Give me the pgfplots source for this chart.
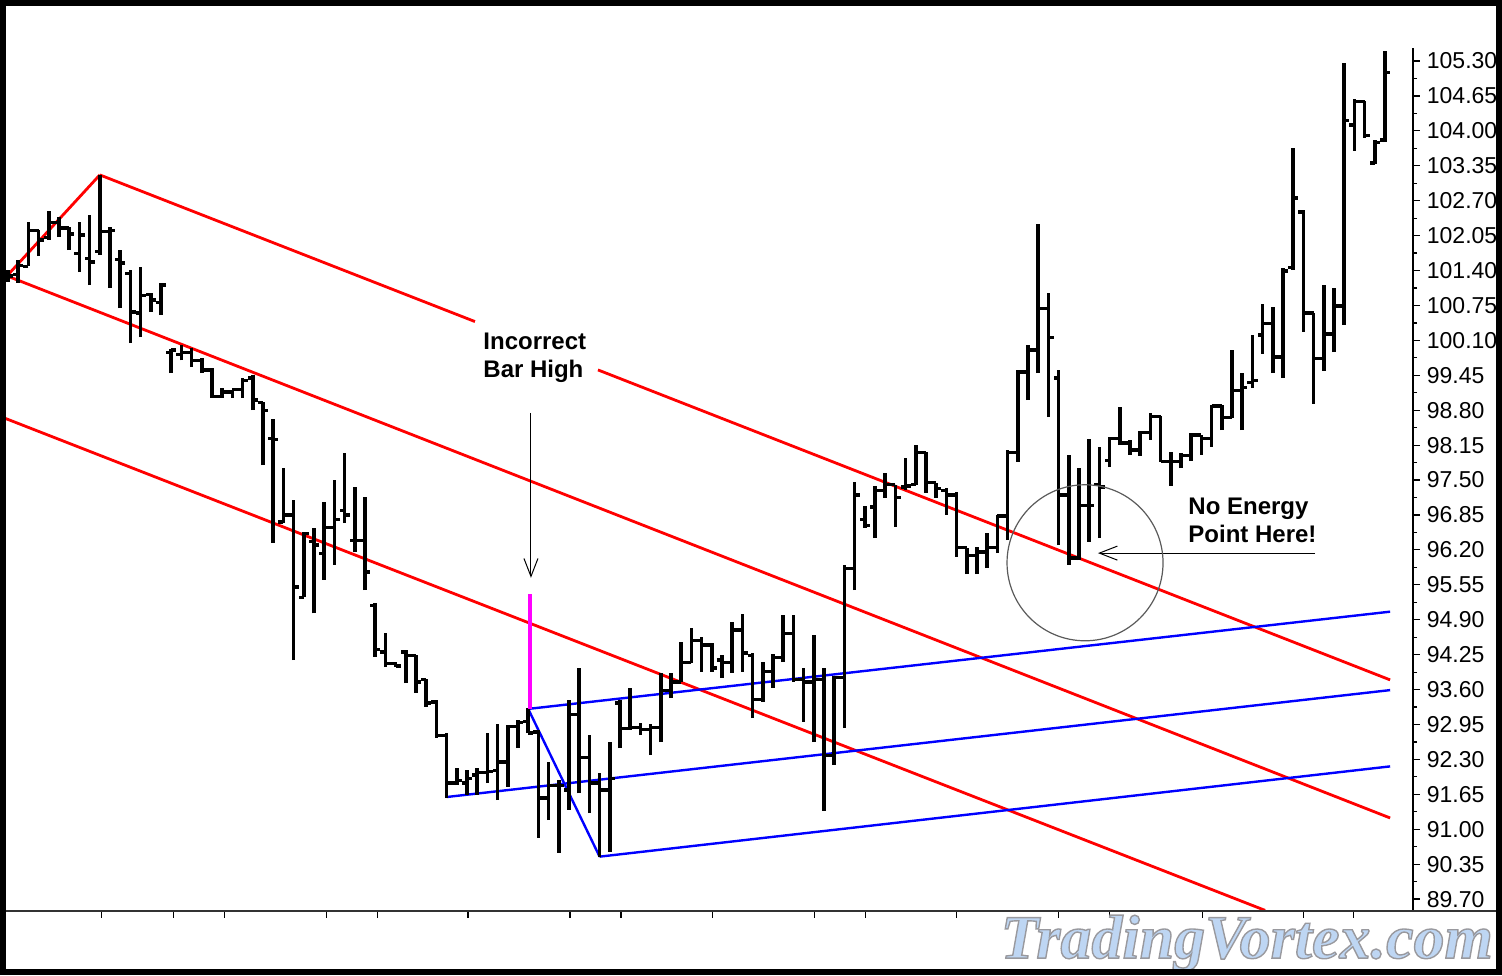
\documentclass[border=0pt]{standalone}
\usepackage{fontspec}
\setmainfont{Liberation Sans}
\newfontfamily\wmfont{Liberation Serif}
\usepackage{pgfplots}
\pgfplotsset{compat=1.18}
\usepackage{pgfplotstable}
\usetikzlibrary{arrows.meta}
\definecolor{wmblue}{RGB}{190,214,243}
\definecolor{circgray}{RGB}{90,90,90}
\definecolor{pfred}{RGB}{255,0,0}
\definecolor{pfblue}{RGB}{0,0,255}
\definecolor{pfmag}{RGB}{255,0,255}

\pgfplotstableread{
i o h l c
0 101.24 101.41 101.19 101.30
1 101.32 101.60 101.17 101.50
2 101.48 102.30 101.48 102.15
3 102.14 102.15 101.67 101.97
4 102.01 102.51 101.97 102.30
5 102.30 102.40 102.02 102.19
6 102.19 102.21 101.78 102.08
7 101.71 102.30 101.37 102.06
8 101.63 102.43 101.13 101.56
9 101.75 103.18 101.69 102.12
10 102.12 102.21 101.08 102.15
11 101.60 101.78 100.70 101.54
12 101.35 101.41 100.05 100.63
13 100.61 101.47 100.16 100.93
14 100.95 100.98 100.63 100.85
15 100.81 101.17 100.57 101.13
16 99.88 99.94 99.49 99.92
17 99.83 100.01 99.73 99.88
18 99.88 99.96 99.60 99.73
19 99.73 99.77 99.49 99.55
20 99.55 99.59 99.03 99.06
21 99.06 99.21 99.03 99.14
22 99.14 99.18 99.03 99.18
23 99.18 99.40 99.03 99.36
24 99.40 99.45 98.80 98.99
25 98.95 98.95 97.78 98.80
26 98.28 98.64 96.33 98.25
27 96.72 97.72 96.70 96.85
28 96.85 97.13 94.15 95.51
29 95.32 96.53 95.32 96.51
30 96.35 96.61 95.02 96.29
31 96.14 97.09 95.64 96.61
32 96.61 97.50 95.92 96.76
33 96.94 98.00 96.70 96.85
34 96.38 97.37 96.16 96.38
35 96.38 97.18 95.45 95.79
36 95.17 95.21 94.21 94.34
37 94.30 94.65 94.02 94.09
38 94.09 94.11 94.02 94.04
39 94.30 94.34 93.72 94.24
40 94.24 94.24 93.54 93.74
41 93.78 93.80 93.28 93.35
42 93.37 93.41 92.70 92.75
43 92.75 92.79 91.58 91.86
44 91.86 92.14 91.82 91.90
45 91.86 92.10 91.64 91.95
46 92.01 92.14 91.64 92.05
47 92.05 92.79 91.86 92.08
48 92.10 92.96 91.54 92.25
49 92.25 92.94 91.79 92.92
50 92.92 93.03 92.51 92.98
51 93.00 93.26 92.79 92.79
52 92.81 92.85 90.84 91.58
53 91.58 92.25 91.17 91.82
54 91.82 91.92 90.56 91.82
55 91.73 93.41 91.36 93.13
56 93.13 94.00 91.67 92.34
57 92.34 92.75 91.30 91.86
58 91.86 92.05 90.48 91.73
59 91.73 92.62 90.58 91.95
60 93.35 93.41 92.51 92.88
61 92.88 93.63 92.85 92.90
62 92.90 92.98 92.75 92.85
63 92.85 92.96 92.38 92.90
64 92.90 93.91 92.62 93.59
65 93.59 93.91 93.44 93.74
66 93.74 94.49 93.74 94.11
67 94.11 94.75 94.09 94.52
68 94.52 94.58 93.93 94.43
69 94.43 94.47 93.93 94.00
70 94.15 94.24 93.82 94.11
71 94.11 94.86 93.91 94.71
72 94.71 95.01 93.93 94.28
73 94.24 94.28 93.07 93.41
74 93.41 94.11 93.37 93.93
75 93.93 94.26 93.63 94.19
76 94.19 94.99 94.11 94.65
77 94.65 94.99 93.74 93.78
78 93.78 94.00 93.00 93.74
79 93.74 94.62 92.62 93.78
80 93.78 94.00 91.34 92.38
81 92.38 93.85 92.20 93.82
82 93.82 95.92 92.88 95.86
83 95.86 97.46 95.45 97.22
84 96.76 97.02 96.61 96.66
85 97.00 97.39 96.42 97.31
86 97.31 97.63 97.17 97.41
87 97.41 97.41 96.63 97.17
88 97.37 97.91 97.31 97.39
89 97.41 98.15 97.41 98.02
90 98.02 98.02 97.26 97.45
91 97.45 97.45 97.17 97.35
92 97.31 97.35 96.85 97.22
93 97.22 97.28 96.07 96.24
94 96.24 96.24 95.75 96.10
95 96.10 96.25 95.75 96.16
96 96.16 96.51 95.86 96.25
97 96.25 96.85 96.14 96.83
98 96.83 98.06 96.38 98.02
99 98.02 99.55 97.84 99.51
100 99.51 100.01 98.99 99.92
101 99.92 102.27 99.49 100.70
102 100.70 100.98 98.67 100.16
103 99.40 99.55 96.29 97.22
104 97.22 97.97 95.92 96.05
105 96.05 97.72 96.01 97.03
106 97.03 98.26 96.35 97.03
107 97.41 98.12 96.42 97.37
108 97.87 98.30 97.74 98.28
109 98.28 98.86 98.15 98.19
110 98.19 98.25 97.97 98.06
111 98.06 98.41 97.95 98.39
112 98.39 98.75 98.25 98.69
113 98.69 98.69 97.84 97.85
114 97.85 98.02 97.39 97.84
115 97.84 98.00 97.72 97.95
116 97.95 98.38 97.85 98.34
117 98.34 98.34 97.97 98.28
118 98.28 98.90 98.12 98.88
119 98.88 98.90 98.43 98.67
120 98.67 99.92 98.65 99.16
121 99.16 99.49 98.43 99.23
122 99.32 100.20 99.21 99.36
123 100.20 100.78 99.85 100.41
124 100.41 100.72 99.49 99.79
125 99.79 101.45 99.40 101.39
126 101.45 103.68 101.41 102.75
127 102.49 102.53 100.26 100.61
128 100.61 100.61 98.92 99.77
129 99.77 101.13 99.53 100.22
130 100.22 101.08 99.88 100.74
131 100.74 105.26 100.39 104.20
132 104.11 104.59 103.63 104.54
133 104.54 104.56 103.87 103.92
134 103.40 103.83 103.38 103.79
135 103.83 105.49 103.79 105.08
}\bars

\newcommand{\wm}{\wmfont\bfseries\itshape\fontsize{31}{31}\selectfont TradingVortex.com}

\begin{document}
\begin{tikzpicture}
\begin{axis}[
  scale only axis, width=704pt, height=454pt,
  xmin=-0.294, xmax=137.745, ymin=89.478, ymax=106.380,
  clip=false,
  axis x line*=bottom, axis y line*=right,
  axis line style={draw=none},
  tick align=outside,
  major tick length=3.4pt, minor tick length=2pt,
  tick style={black, line width=0.6pt},
  xtick={9.2,16.2,21.2,31.2,36.2,45.1,55.1,60.1,69.1,79.1,84.1,93,103,108,117.1,127,131.9},
  xticklabels={},
  ytick={89.70,90.35,91.00,91.65,92.30,92.95,93.60,94.25,94.90,95.55,96.20,96.85,97.50,98.15,98.80,99.45,100.10,100.75,101.40,102.05,102.70,103.35,104.00,104.65,105.30},
  minor y tick num=1,
  yticklabel style={font=\fontsize{11.5}{13}\selectfont, text=black,
    /pgf/number format/fixed, /pgf/number format/fixed zerofill,
    /pgf/number format/precision=2, /pgf/number format/assume math mode=true},
]
% red pitchfork
\addplot[pfred, line width=1.4pt] coordinates {(-0.1,101.30) (9,103.18)};
\addplot[pfred, line width=1.4pt] coordinates {(9,103.18) (45.78,100.45)};
\addplot[pfred, line width=1.4pt] coordinates {(57.84,99.55) (135.5,93.78)};
\addplot[pfred, line width=1.4pt] coordinates {(-0.1,101.30) (135.5,91.21)};
\addplot[pfred, line width=1.4pt] coordinates {(-0.294,98.65) (123.24,89.49)};
% blue pitchfork
\addplot[pfblue, line width=1.2pt] coordinates {(51,93.24) (58,90.49)};
\addplot[pfblue, line width=1.2pt] coordinates {(51,93.24) (135.5,95.05)};
\addplot[pfblue, line width=1.2pt] coordinates {(43,91.60) (135.5,93.59)};
\addplot[pfblue, line width=1.2pt] coordinates {(58,90.49) (135.5,92.17)};
% OHLC bars
\addplot[black, line width=1.85pt, quiver={u=0, v=\thisrow{h}-\thisrow{l}}] table[x=i, y=l] {\bars};
\addplot[black, line width=1.6pt, quiver={u=-0.5, v=0}] table[x=i, y=o] {\bars};
\addplot[black, line width=1.6pt, quiver={u=0.5, v=0}] table[x=i, y=c] {\bars};
% magenta incorrect high
\addplot[pfmag, line width=2pt] coordinates {(51.15,93.24) (51.15,95.38)};

% axes lines
\draw[black, line width=0.7pt] (axis cs:137.745,105.54) -- (axis cs:137.745,89.478);
\draw[black!80, line width=0.8pt] (axis cs:-0.294,89.478) -- (axis cs:145.9,89.478);

% annotations
\node[anchor=north west, inner sep=0pt, align=left, font=\bfseries\fontsize{12}{13.75}\selectfont] at (axis cs:46.57,100.24) {Incorrect\\Bar High};
\draw[black, line width=0.5pt, -{Straight Barb[length=9pt,width=7pt]}] (axis cs:51.27,98.75) -- (axis cs:51.27,95.68);
\node[anchor=north west, inner sep=0pt, align=left, font=\bfseries\fontsize{12}{13.75}\selectfont] at (axis cs:115.69,97.17) {No Energy\\Point Here!};
\draw[black, line width=0.5pt, -{Straight Barb[length=9pt,width=7pt]}] (axis cs:128.14,96.14) -- (axis cs:106.86,96.14);
\draw[circgray, line width=0.6pt] (axis cs:105.59,95.96) circle [radius=39pt];

\coordinate (wm) at (axis cs:145.6,88.60);
\coordinate (frA) at (axis cs:-0.49,106.389);
\coordinate (frB) at (axis cs:146.13,88.352);
\coordinate (bbA) at (axis cs:-0.7843,106.436);
\coordinate (bbB) at (axis cs:146.47,88.286);
\end{axis}
% watermark: filled and stroked text (outline)
\node[anchor=base east, inner sep=0pt, text=wmblue] at (wm) {\special{pdf:literal direct 0.6 0.6 0.62 RG 0.7 w 2 Tr}\wm\special{pdf:literal direct 0 Tr}};
% frame
\draw[black, line width=3pt] (frA) rectangle (frB);
\pgfresetboundingbox
\useasboundingbox (bbA) rectangle (bbB);
\end{tikzpicture}
\end{document}
